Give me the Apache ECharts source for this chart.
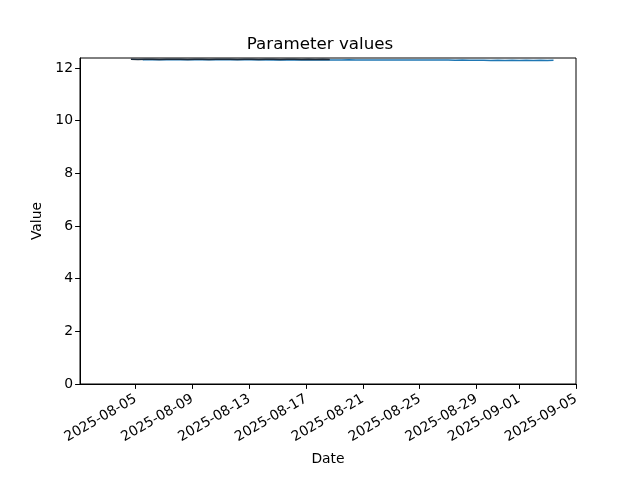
<!DOCTYPE html>
<html><head><meta charset="utf-8">
<script src="https://cdn.jsdelivr.net/npm/echarts@6/dist/echarts.min.js"></script>
<style>html,body{margin:0;padding:0;background:#fff}#c{width:640px;height:480px}</style>
</head><body><div id="c"></div>
<script>
const xTickLabels = ["2025-08-05","2025-08-09","2025-08-13","2025-08-17","2025-08-21","2025-08-25","2025-08-29","2025-09-01","2025-09-05"];
const yTicks = [0,2,4,6,8,10,12];
const darkTimes = ["2025-08-04T16:00","2025-08-05T04:00","2025-08-05T16:00","2025-08-06T04:00","2025-08-06T16:00","2025-08-07T04:00","2025-08-07T16:00","2025-08-08T04:00","2025-08-08T16:00","2025-08-09T04:00","2025-08-09T16:00","2025-08-10T04:00","2025-08-10T16:00","2025-08-11T04:00","2025-08-11T16:00","2025-08-12T04:00","2025-08-12T16:00","2025-08-13T04:00","2025-08-13T16:00","2025-08-14T04:00","2025-08-14T16:00","2025-08-15T04:00","2025-08-15T16:00","2025-08-16T04:00","2025-08-16T16:00","2025-08-17T04:00","2025-08-17T16:00","2025-08-18T04:00","2025-08-18T16:00"];
const darkValues = [12.33,12.32,12.33,12.33,12.32,12.33,12.33,12.33,12.32,12.33,12.33,12.32,12.33,12.33,12.33,12.32,12.33,12.33,12.32,12.33,12.33,12.32,12.33,12.33,12.32,12.33,12.32,12.33,12.32];
const blueTimes = ["2025-08-05T12:00","2025-08-07T00:00","2025-08-09T00:00","2025-08-11T00:00","2025-08-13T00:00","2025-08-15T00:00","2025-08-15T12:00","2025-08-16T00:00","2025-08-16T12:00","2025-08-17T00:00","2025-08-17T12:00","2025-08-18T00:00","2025-08-18T12:00","2025-08-19T00:00","2025-08-19T12:00","2025-08-20T00:00","2025-08-20T12:00","2025-08-21T00:00","2025-08-21T12:00","2025-08-22T00:00","2025-08-22T12:00","2025-08-23T00:00","2025-08-23T12:00","2025-08-24T00:00","2025-08-24T12:00","2025-08-25T00:00","2025-08-25T12:00","2025-08-26T00:00","2025-08-26T12:00","2025-08-27T00:00","2025-08-27T12:00","2025-08-28T00:00","2025-08-28T12:00","2025-08-29T00:00","2025-08-29T12:00","2025-08-30T00:00","2025-08-30T12:00","2025-08-31T00:00","2025-08-31T12:00","2025-09-01T00:00","2025-09-01T12:00","2025-09-02T00:00","2025-09-02T12:00","2025-09-03T00:00","2025-09-03T10:00"];
const blueValues = [12.31,12.315,12.31,12.315,12.31,12.305,12.31,12.30,12.31,12.305,12.30,12.31,12.30,12.305,12.30,12.31,12.30,12.305,12.30,12.30,12.305,12.30,12.30,12.305,12.30,12.30,12.30,12.305,12.30,12.30,12.295,12.30,12.29,12.295,12.29,12.285,12.29,12.285,12.29,12.285,12.29,12.285,12.29,12.285,12.29];

const ms = s => Date.parse(s + (s.length > 10 ? ":00Z" : "T00:00:00Z"));
const pad = n => (n < 10 ? "0" : "") + n;
const fmt = v => { const d = new Date(v); return d.getUTCFullYear() + "-" + pad(d.getUTCMonth()+1) + "-" + pad(d.getUTCDate()); };
const xTickVals = xTickLabels.map(ms);
const xMin = ms("2025-08-01T02:00");
const xMax = ms("2025-09-05");
const font = "DejaVu Sans";

const chart = echarts.init(document.getElementById('c'), null, {renderer: 'canvas'});
chart.setOption({
  animation: false,
  backgroundColor: '#fff',
  title: {text: 'Parameter values', left: 'center', top: 31, textStyle: {fontFamily: font, fontSize: 16.7, fontWeight: 'normal', color: '#000'}},
  grid: {left: 80, right: 64, top: 58, bottom: 96, show: true, borderColor: '#000', borderWidth: 1, backgroundColor: 'transparent'},
  xAxis: {
    type: 'value', min: xMin, max: xMax, name: 'Date', nameLocation: 'middle', nameGap: 68,
    nameTextStyle: {fontFamily: font, fontSize: 13.9, color: '#000'},
    axisLine: {show: true, lineStyle: {color: '#000', width: 1}},
    axisTick: {show: true, length: 4.9, lineStyle: {color: '#000'}, customValues: xTickVals},
    axisLabel: {rotate: 30, fontFamily: font, fontSize: 13.9, color: '#000', margin: 14, customValues: xTickVals, formatter: v => fmt(v)},
    splitLine: {show: false}
  },
  yAxis: {
    type: 'value', min: 0, max: 12.38, name: 'Value', nameLocation: 'middle', nameGap: 36,
    nameTextStyle: {fontFamily: font, fontSize: 13.9, color: '#000'},
    axisLine: {show: true, lineStyle: {color: '#000', width: 1}},
    axisTick: {show: true, length: 4.9, lineStyle: {color: '#000'}, customValues: yTicks},
    axisLabel: {fontFamily: font, fontSize: 13.9, color: '#000', margin: 7, customValues: yTicks},
    splitLine: {show: false}
  },
  series: [
    {type: 'line', data: darkTimes.map((t, i) => [ms(t), darkValues[i]]), showSymbol: false, lineStyle: {color: '#1b2a3a', width: 1.5}, z: 3},
    {type: 'line', data: blueTimes.map((t, i) => [ms(t), blueValues[i]]), showSymbol: false, lineStyle: {color: '#1f77b4', width: 1.5}, z: 2}
  ]
});
</script></body></html>
